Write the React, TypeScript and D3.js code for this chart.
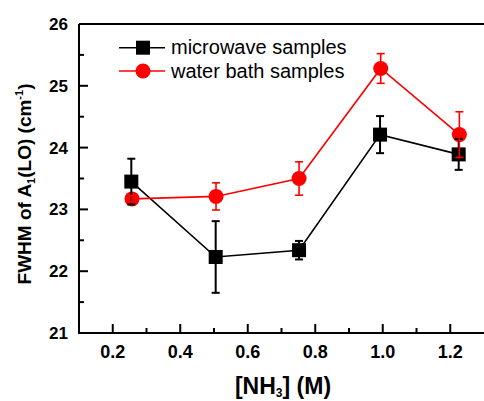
import React from "react";
import * as d3 from "d3";

const concentrations = [0.255, 0.505, 0.752, 0.992, 1.225];
const microwave = [23.45, 22.23, 22.34, 24.21, 23.89];
const microwaveErr = [0.37, 0.58, 0.15, 0.3, 0.25];
const waterX = [0.257, 0.506, 0.752, 0.994, 1.227];
const waterBath = [23.17, 23.21, 23.5, 25.28, 24.21];
const waterErr = [0.05, 0.22, 0.27, 0.24, 0.37];

const xMajor = [0.2, 0.4, 0.6, 0.8, 1.0, 1.2];
const xMinor = [0.3, 0.5, 0.7, 0.9, 1.1];
const yMajor = [21, 22, 23, 24, 25, 26];
const yMinor = [21.5, 22.5, 23.5, 24.5, 25.5];

const W = 484;
const H = 401;
const FONT = "'Liberation Sans', Arial, sans-serif";

const x = d3.scaleLinear().domain([0.1, 1.3]).range([79, 484]);
const y = d3.scaleLinear().domain([21, 26]).range([333, 24]);

type Series = { xs: number[]; ys: number[]; err: number[]; color: string; marker: "square" | "circle" };

const series: Series[] = [
    { xs: concentrations, ys: microwave, err: microwaveErr, color: "#000000", marker: "square" },
    { xs: waterX, ys: waterBath, err: waterErr, color: "#ff0000", marker: "circle" },
];

const Marker = ({ cx, cy, s }: { cx: number; cy: number; s: Series }) =>
    s.marker === "square" ? (
        <rect x={cx - 7} y={cy - 7} width={14} height={14} fill={s.color} />
    ) : (
        <circle cx={cx} cy={cy} r={7.5} fill={s.color} />
    );

export default function App() {
    const line = d3.line<[number, number]>().x(d => x(d[0])).y(d => y(d[1]));
    const bottom = y(21);
    const left = x(0.1);

    return (
        <svg width={W} height={H} style={{ position: "absolute", left: 0, top: 0, background: "#fff" }}>
            {/* frame */}
            <line x1={left} x2={W} y1={y(26)} y2={y(26)} stroke="#000" strokeWidth={2} />
            <line x1={left} x2={W} y1={bottom} y2={bottom} stroke="#000" strokeWidth={2} />
            <line x1={left} x2={left} y1={y(26)} y2={bottom + 1} stroke="#000" strokeWidth={2} />

            {xMajor.map(v => (
                <g key={"xm" + v}>
                    <line x1={x(v)} x2={x(v)} y1={bottom} y2={bottom - 9} stroke="#000" strokeWidth={2} />
                    <text x={x(v)} y={358} textAnchor="middle" fontFamily={FONT} fontWeight="bold" fontSize={18}>
                        {v.toFixed(1)}
                    </text>
                </g>
            ))}
            {xMinor.map(v => (
                <line key={"xn" + v} x1={x(v)} x2={x(v)} y1={bottom} y2={bottom - 5} stroke="#000" strokeWidth={2} />
            ))}
            {yMajor.map(v => (
                <g key={"ym" + v}>
                    <line x1={left} x2={left + 9} y1={y(v)} y2={y(v)} stroke="#000" strokeWidth={2} />
                    <text x={68} y={y(v) + 6} textAnchor="end" fontFamily={FONT} fontWeight="bold" fontSize={17}>
                        {v}
                    </text>
                </g>
            ))}
            {yMinor.map(v => (
                <line key={"yn" + v} x1={left} x2={left + 5} y1={y(v)} y2={y(v)} stroke="#000" strokeWidth={2} />
            ))}

            {/* lines */}
            {series.map((s, i) => (
                <path
                    key={"l" + i}
                    d={line(s.xs.map((v, j) => [v, s.ys[j]] as [number, number])) || ""}
                    fill="none"
                    stroke={s.color}
                    strokeWidth={1.6}
                />
            ))}
            {/* markers */}
            {series.map((s, i) =>
                s.xs.map((v, j) => <Marker key={"m" + i + j} cx={x(v)} cy={y(s.ys[j])} s={s} />)
            )}
            {/* error bars */}
            {series.map((s, i) =>
                s.xs.map((v, j) => {
                    const cx = x(v);
                    const top = y(s.ys[j] + s.err[j]);
                    const bot = y(s.ys[j] - s.err[j]);
                    return (
                        <g key={"e" + i + j} stroke={s.color} strokeWidth={i === 0 ? 2 : 1.6}>
                            <line x1={cx} x2={cx} y1={top} y2={bot} />
                            <line x1={cx - 4} x2={cx + 4} y1={top} y2={top} />
                            <line x1={cx - 4} x2={cx + 4} y1={bot} y2={bot} />
                        </g>
                    );
                })
            )}

            {/* legend */}
            {[
                { label: "microwave samples", cy: 47.7, s: series[0] },
                { label: "water bath samples", cy: 71, s: series[1] },
            ].map(d => (
                <g key={d.label}>
                    <line x1={119} x2={165} y1={d.cy} y2={d.cy} stroke={d.s.color} strokeWidth={1.6} />
                    <Marker cx={143} cy={d.cy} s={d.s} />
                    <text x={171} y={d.cy + 6.5} fontFamily={FONT} fontSize={20}>
                        {d.label}
                    </text>
                </g>
            ))}

            {/* axis titles */}
            <text x={283} y={394} textAnchor="middle" fontFamily={FONT} fontWeight="bold" fontSize={23}>
                [NH<tspan fontSize={12} dy={3}>3</tspan>
                <tspan dy={-3}>] (M)</tspan>
            </text>
            <text
                transform={`translate(31,${184}) rotate(-90)`}
                textAnchor="middle"
                fontFamily={FONT}
                fontWeight="bold"
                fontSize={19}
            >
                FWHM of A<tspan fontSize={11} dy={4}>1</tspan>
                <tspan dy={-4}>(LO) (cm</tspan>
                <tspan fontSize={11} dy={-8}>-1</tspan>
                <tspan dy={8}>)</tspan>
            </text>
        </svg>
    );
}
